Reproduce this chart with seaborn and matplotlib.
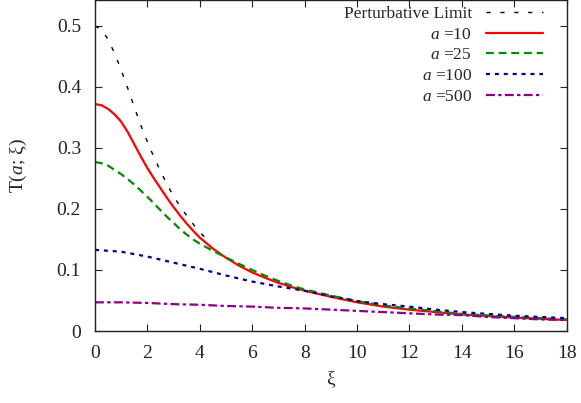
import matplotlib
matplotlib.use('Agg')
import numpy as np
import pandas as pd
import seaborn as sns
import matplotlib.pyplot as plt

# values
xi_pert = [0, 0.25, 0.5, 0.75, 1, 1.25, 1.5, 1.75, 2, 2.25, 2.5, 2.75, 3, 3.25,
           3.5, 3.75, 4, 4.25, 4.4]
t_pert = [0.500, 0.494, 0.478, 0.455, 0.428, 0.398, 0.367, 0.337, 0.310, 0.285,
          0.262, 0.240, 0.221, 0.204, 0.189, 0.175, 0.162, 0.151, 0.145]

xi_fine = [0, 0.25, 0.5, 0.75, 1, 1.25, 1.5, 1.75, 2, 2.25, 2.5, 2.75, 3, 3.25,
           3.5, 3.75, 4, 4.5, 5, 5.5, 6, 6.5, 7, 7.5, 8, 9, 10, 11, 12, 14, 16, 18]
t_a10 = [0.372, 0.370, 0.364, 0.355, 0.343, 0.326, 0.306, 0.286, 0.267, 0.250,
         0.234, 0.218, 0.203, 0.189, 0.176, 0.164, 0.153, 0.135, 0.120, 0.107,
         0.096, 0.087, 0.079, 0.072, 0.066, 0.056, 0.047, 0.040, 0.035, 0.027,
         0.022, 0.018]
t_a25 = [0.277, 0.275, 0.271, 0.264, 0.257, 0.249, 0.240, 0.230, 0.220, 0.209,
         0.198, 0.187, 0.177, 0.167, 0.158, 0.150, 0.143, 0.1315, 0.1205, 0.110,
         0.100, 0.0905, 0.082, 0.0745, 0.068, 0.058, 0.049, 0.042, 0.037, 0.028,
         0.023, 0.019]

xi_coarse = [0, 1, 2, 3, 4, 5, 6, 7, 8, 9, 10, 11, 12, 13, 14, 15, 16, 17, 18]
t_a100 = [0.133, 0.130, 0.122, 0.112, 0.102, 0.091, 0.081, 0.073, 0.066, 0.057,
          0.049, 0.044, 0.040, 0.035, 0.031, 0.028, 0.025, 0.023, 0.021]
t_a500 = [0.047, 0.047, 0.046, 0.044, 0.043, 0.041, 0.040, 0.038, 0.037, 0.035,
          0.033, 0.031, 0.029, 0.027, 0.026, 0.023, 0.021, 0.019, 0.018]

labels = ['Perturbative Limit', '$a$ =10', '$a$ =25', '$a$ =100', '$a$ =500']
colors = ['black', '#ff0000', '#008a00', '#00008b', '#8b008b']

sns.set_style('ticks')
plt.rcParams['font.family'] = ['Liberation Serif', 'DejaVu Serif']
plt.rcParams['mathtext.fontset'] = 'custom'
plt.rcParams['mathtext.rm'] = 'Liberation Serif'
plt.rcParams['mathtext.it'] = 'Liberation Serif:italic'

fig = plt.figure(figsize=(5.81, 4.03), dpi=100)
ax = fig.add_axes([95 / 581, 72 / 403, (566.7 - 95) / 581, 331 / 403])

series = [(xi_pert, t_pert), (xi_fine, t_a10), (xi_fine, t_a25),
          (xi_coarse, t_a100), (xi_coarse, t_a500)]
styles = [dict(lw=1.0, dashes=(3, 7)),
          dict(lw=1.6),
          dict(lw=1.6, dashes=(3.5, 2.2)),
          dict(lw=1.6, dashes=(1.8, 2.2)),
          dict(lw=1.6, dashes=(4, 1.5, 1.5, 1.5))]

for (x, y), lab, col, st in zip(series, labels, colors, styles):
    df = pd.DataFrame({'xi': x, 'T': y})
    sns.lineplot(data=df, x='xi', y='T', ax=ax, color=col, label=lab,
                 linewidth=st['lw'])
    if 'dashes' in st:
        ax.lines[-1].set_dashes(st['dashes'])

ax.set_xlim(0, 18)
ax.set_ylim(0, 0.5426)
ax.set_xticks(np.arange(0, 19, 2))
ax.set_yticks([0, 0.1, 0.2, 0.3, 0.4, 0.5])
ax.set_yticklabels(['0', '0.1', '0.2', '0.3', '0.4', '0.5'])
ax.tick_params(direction='in', length=5, width=0.8, labelsize=14, colors='#222222',
               top=True, right=True, pad=10)
ax.tick_params(axis='x', pad=10)
for s in ax.spines.values():
    s.set_visible(True)
    s.set_linewidth(1.0)
    s.set_color('#222222')

ax.set_xlabel('ξ', fontsize=14, labelpad=6)
ax.set_ylabel('T($a$; ξ)', fontsize=14, labelpad=20)

leg = ax.legend(loc='upper right', bbox_to_anchor=(543 / 581, 0.986),
                bbox_transform=fig.transFigure, frameon=False, markerfirst=False,
                fontsize=12.5, handlelength=3.3, handletextpad=0.8,
                labelspacing=0.27, borderpad=0, borderaxespad=0)
for t in leg.get_texts():
    t.set_ha('right')

fig.savefig('out.png', dpi=100)
